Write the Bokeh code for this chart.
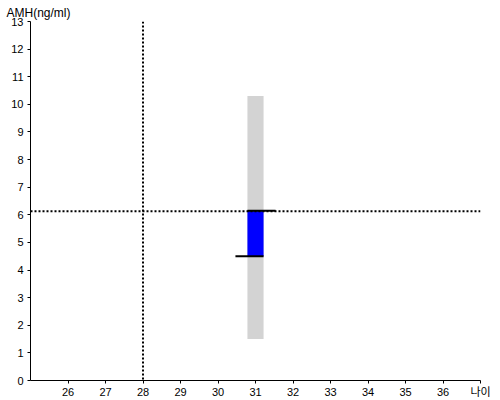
from bokeh.plotting import figure
from bokeh.models import FixedTicker, Span, ColumnDataSource
from bokeh.embed import file_html
from bokeh.resources import INLINE

# ---- data ----
x_ticks = [26, 27, 28, 29, 30, 31, 32, 33, 34, 35, 36]
y_ticks = list(range(0, 14))
ages = [31]
range_low = [1.5]
range_high = [10.3]
mid_low = [4.5]
mid_high = [6.15]
patient_age = 28
patient_amh = 6.13
x_label = "나이"
y_label = "AMH(ng/ml)"
x_max = 37

bar_w = 0.43
seg_len = 0.75

p = figure(width=500, height=400, x_range=(25, x_max), y_range=(0, 13),
           output_backend="svg", toolbar_location=None,
           min_border_left=30, min_border_right=20, min_border_top=21,
           min_border_bottom=20)
p.outline_line_color = None
p.xgrid.visible = False
p.ygrid.visible = False
p.background_fill_color = "white"

p.title.text = y_label
p.title.text_font = "Liberation Sans"
p.title.text_font_size = "12px"
p.title.text_font_style = "normal"
p.title.text_color = "black"
p.title.align = "left"
p.title.offset = -24
p.title.standoff = 3

src = ColumnDataSource(dict(x=ages, lo=range_low, hi=range_high,
                            mlo=mid_low, mhi=mid_high))
p.vbar(x="x", width=bar_w, bottom="lo", top="hi", source=src,
       fill_color="#D3D3D3", line_color=None)
p.vbar(x="x", width=bar_w, bottom="mlo", top="mhi", source=src,
       fill_color="#0000FF", line_color=None)

# reference lines
p.add_layout(Span(location=patient_age, dimension="height", line_color="black",
                  line_width=2, line_dash="2 2"))
p.add_layout(Span(location=patient_amh, dimension="width", line_color="black",
                  line_width=2, line_dash="2 2"))

# whisker segments
p.segment(x0=[a - bar_w / 2 for a in ages], x1=[a - bar_w / 2 + seg_len for a in ages],
          y0=mid_high, y1=mid_high, line_color="black", line_width=2)
p.segment(x0=[a + bar_w / 2 - seg_len for a in ages], x1=[a + bar_w / 2 for a in ages],
          y0=mid_low, y1=mid_low, line_color="black", line_width=2)

for ax, ticks in ((p.xaxis[0], x_ticks + [x_max]), (p.yaxis[0], y_ticks)):
    ax.ticker = FixedTicker(ticks=ticks)
    ax.minor_tick_line_color = None
    ax.major_tick_in = 0
    ax.major_tick_out = 3
    ax.axis_line_color = "black"
    ax.major_tick_line_color = "black"
    ax.major_label_text_font = "Liberation Sans, Noto Sans CJK KR"
    ax.major_label_text_font_size = "11px"
    ax.major_label_text_color = "black"
p.xaxis.major_label_overrides = {x_max: x_label}
p.xaxis.major_label_standoff = 2
p.yaxis.major_label_standoff = 4

open("out.html", "w").write(file_html(p, INLINE))
